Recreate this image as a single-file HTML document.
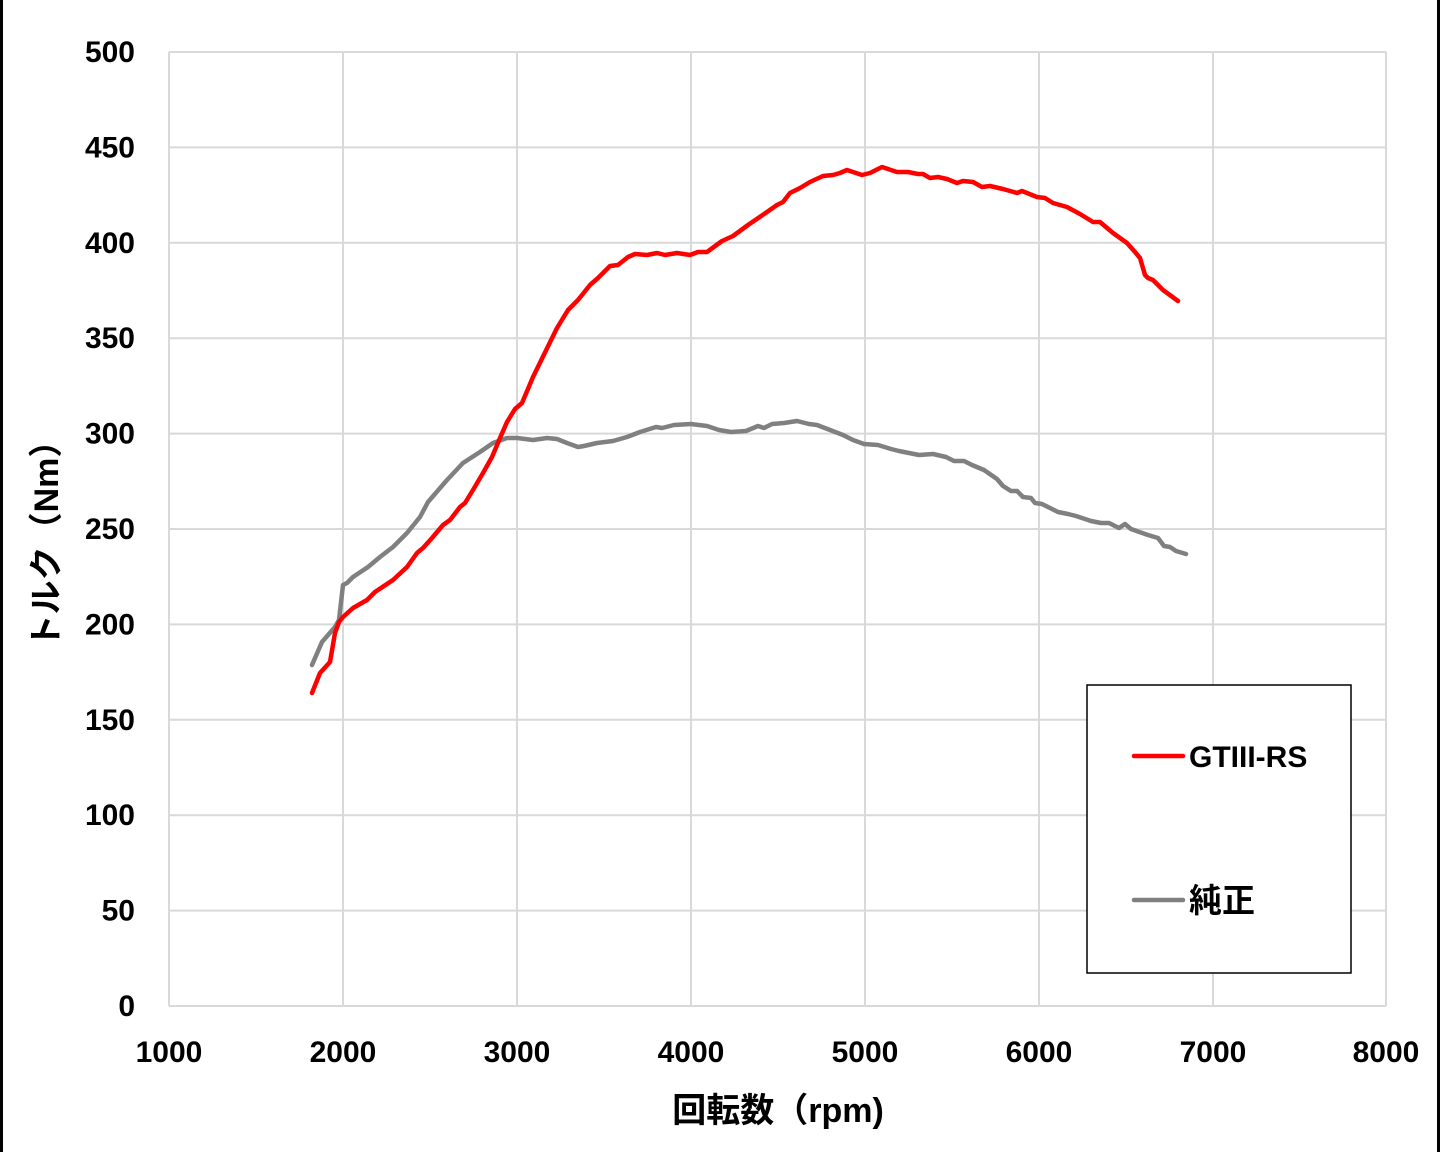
<!DOCTYPE html>
<html>
<head>
<meta charset="utf-8">
<style>
html,body{margin:0;padding:0;background:#fff;}
svg{display:block;}
text{font-family:"Liberation Sans","Noto Sans CJK JP",sans-serif;font-weight:bold;fill:#000;}
</style>
</head>
<body>
<svg width="1440" height="1152" viewBox="0 0 1440 1152" xmlns="http://www.w3.org/2000/svg">
<rect x="0" y="0" width="1440" height="1152" fill="#fff"/>
<rect x="0" y="0" width="3" height="1152" fill="#000"/>
<rect x="1437" y="0" width="3" height="1152" fill="#000"/>

<g stroke="#d9d9d9" stroke-width="2" fill="none">
<line x1="169" y1="52" x2="1386" y2="52"/>
<line x1="169" y1="147.4" x2="1386" y2="147.4"/>
<line x1="169" y1="242.8" x2="1386" y2="242.8"/>
<line x1="169" y1="338.2" x2="1386" y2="338.2"/>
<line x1="169" y1="433.6" x2="1386" y2="433.6"/>
<line x1="169" y1="529" x2="1386" y2="529"/>
<line x1="169" y1="624.4" x2="1386" y2="624.4"/>
<line x1="169" y1="719.8" x2="1386" y2="719.8"/>
<line x1="169" y1="815.2" x2="1386" y2="815.2"/>
<line x1="169" y1="910.6" x2="1386" y2="910.6"/>
<line x1="169" y1="1006" x2="1386" y2="1006"/>
<line x1="169" y1="52" x2="169" y2="1006"/>
<line x1="343" y1="52" x2="343" y2="1006"/>
<line x1="517" y1="52" x2="517" y2="1006"/>
<line x1="691" y1="52" x2="691" y2="1006"/>
<line x1="865" y1="52" x2="865" y2="1006"/>
<line x1="1039" y1="52" x2="1039" y2="1006"/>
<line x1="1213" y1="52" x2="1213" y2="1006"/>
<line x1="1386" y1="52" x2="1386" y2="1006"/>
</g>

<g font-size="30" text-anchor="end">
<text x="135" y="62">500</text>
<text x="135" y="157.4">450</text>
<text x="135" y="252.8">400</text>
<text x="135" y="348.2">350</text>
<text x="135" y="443.6">300</text>
<text x="135" y="539">250</text>
<text x="135" y="634.4">200</text>
<text x="135" y="729.8">150</text>
<text x="135" y="825.2">100</text>
<text x="135" y="920.6">50</text>
<text x="135" y="1016">0</text>
</g>
<g font-size="30" text-anchor="middle">
<text x="169" y="1062">1000</text>
<text x="343" y="1062">2000</text>
<text x="517" y="1062">3000</text>
<text x="691" y="1062">4000</text>
<text x="865" y="1062">5000</text>
<text x="1039" y="1062">6000</text>
<text x="1213" y="1062">7000</text>
<text x="1386" y="1062">8000</text>
</g>

<text x="778" y="1122" font-size="34" text-anchor="middle">回転数（rpm)</text>
<text transform="translate(58,536) rotate(-90)" font-size="34" text-anchor="middle">トルク（Nm）</text>

<polyline fill="none" stroke="#808080" stroke-width="4.5" stroke-linejoin="round" stroke-linecap="round"
points="312,665 322,642 335,627 339,620 343,585 347,583 353,577 368,567 380,557 393,547 407,533 420,517 428,502 447,480 463,463 480,452 493,443 507,438 517,438 533,440 547,438 557,439 567,443 578,447 584,446 597,443 613,441 627,437 640,432 656,427 662,428 674,425 691,424 707,426 719,430 731,432 746,431 758,426 764,428 772,424 784,423 797,421 809,424 817,425 830,430 843,435 853,440 864,444 878,445 891,449 899,451 919,455 933,454 946,457 954,461 964,461 972,465 984,470 997,479 1003,486 1011,491 1017,491 1023,497 1031,498 1035,503 1042,504 1058,512 1068,514 1076,516 1091,521 1101,523 1109,523 1119,528 1125,524 1131,529 1148,535 1158,538 1164,546 1170,547 1176,551 1186,554"/>

<polyline fill="none" stroke="#ff0000" stroke-width="4.5" stroke-linejoin="round" stroke-linecap="round"
points="312,693 320,673 330,662 335,633 339,622 343,617 353,608 367,600 375,592 393,580 407,567 417,553 423,548 432,538 443,525 450,520 460,507 465,503 473,490 483,473 492,457 500,438 507,422 515,409 522,403 533,377 557,328 568,310 578,300 590,285 598,278 610,266 618,265 628,257 635,254 647,255 657,253 665,255 677,253 690,255 698,252 707,252 722,241 733,236 748,225 767,212 777,205 783,202 790,193 800,188 810,182 823,176 833,175 840,173 847,170 862,175 870,173 882,167 897,172 908,172 918,174 923,174 930,178 938,177 947,179 957,183 963,181 973,182 982,187 990,186 1003,189 1017,193 1022,191 1037,197 1045,198 1053,203 1067,207 1080,214 1093,222 1100,222 1113,233 1127,243 1135,252 1140,258 1145,275 1148,278 1153,280 1163,290 1178,301"/>

<rect x="1087" y="685" width="264" height="288" fill="#fff" stroke="#000" stroke-width="1.5"/>
<line x1="1134" y1="756" x2="1183" y2="756" stroke="#ff0000" stroke-width="4.5" stroke-linecap="round"/>
<text x="1189" y="767" font-size="30">GTIII-RS</text>
<line x1="1134" y1="900" x2="1183" y2="900" stroke="#808080" stroke-width="4.5" stroke-linecap="round"/>
<text x="1189" y="912" font-size="33">純正</text>
</svg>
</body>
</html>
